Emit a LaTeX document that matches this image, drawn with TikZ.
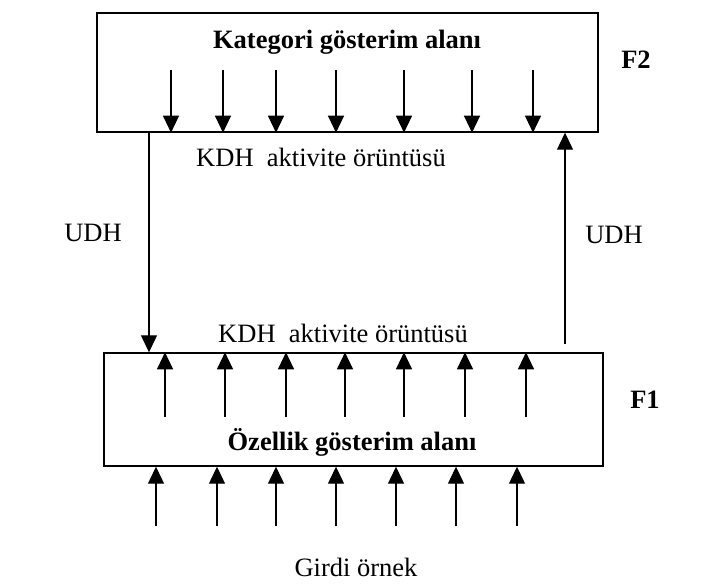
\documentclass[tikz,border=0pt]{standalone}
\usepackage{fontspec}
\setmainfont{Liberation Serif}
\usetikzlibrary{arrows.meta}
\begin{document}
\begin{tikzpicture}[x=1pt,y=-1pt,
  box/.style={draw,line width=1.4pt,inner sep=0pt},
  arr/.style={line width=1.2pt,-{Triangle[width=16pt,length=17pt]}},
  lbl/.style={inner sep=0pt,font=\fontsize{26.5}{30}\selectfont},
  blbl/.style={inner sep=0pt,font=\fontsize{26.5}{30}\selectfont\bfseries}]
\useasboundingbox (0,0) rectangle (706,585);
\node[box,minimum width=501pt,minimum height=119pt] (top) at (347.5,72.5) {};
\node[box,minimum width=499pt,minimum height=113pt] (bot) at (353.5,409.5) {};
\node[blbl] (kat) at (347,42) {Kategori gösterim alanı};
\node[blbl] (f2) at (636,60) {F2};
\node[lbl] (kdh1) at (321,157) {KDH\ \ aktivite örüntüsü};
\node[lbl] (udh1) at (93,233) {UDH};
\node[lbl] (udh2) at (614,235) {UDH};
\node[lbl] (kdh2) at (343,333) {KDH\ \ aktivite örüntüsü};
\node[blbl] (f1) at (645,400) {F1};
\node[blbl] (oz) at (352,442) {Özellik gösterim alanı};
\node[lbl] (gir) at (356,567) {Girdi örnek};
% arrows inside top box
\foreach \x [count=\i] in {171,223,276,336,404,472,533}{
  \coordinate (ta\i) at (\x,70);
  \draw[arr] (ta\i) -- (ta\i |- top.south);
}
% arrows inside bottom box
\foreach \x [count=\i] in {165,225,286,345,404,465,526}{
  \coordinate (ba\i) at (\x,417);
  \draw[arr] (ba\i) -- (ba\i |- bot.north);
}
% input arrows
\foreach \x [count=\i] in {156,217,276,336,396,456,517}{
  \coordinate (ia\i) at (\x,526);
  \draw[arr] (ia\i) -- (ia\i |- bot.south);
}
% UDH connectors
\coordinate (ld) at (149,132);
\draw[arr] (ld |- top.south) -- (ld |- bot.north);
\coordinate (ru) at (565,344);
\draw[arr] (ru) -- (ru |- top.south);
\end{tikzpicture}
\end{document}
